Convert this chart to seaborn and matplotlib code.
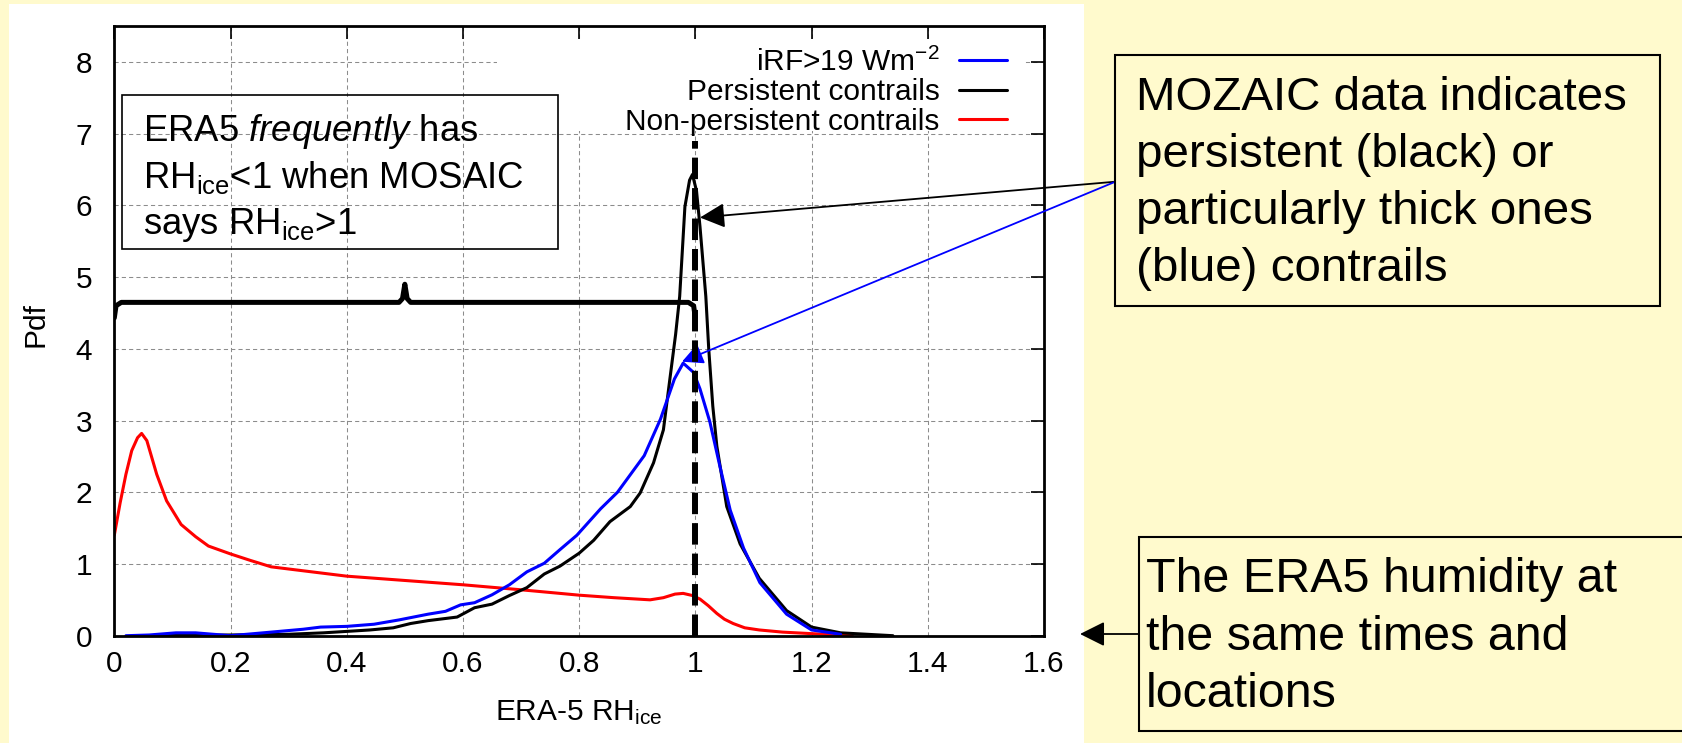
import numpy as np
import pandas as pd
import matplotlib
matplotlib.use("Agg")
import matplotlib.pyplot as plt
import seaborn as sns
from matplotlib.patches import Rectangle

# ---------------- data ----------------
x_nonpersist = [0.0, 0.01, 0.02, 0.03, 0.04, 0.047, 0.056, 0.073, 0.09, 0.115, 0.14, 0.162, 0.2,
                0.234, 0.27, 0.33, 0.4, 0.5, 0.6, 0.7, 0.767, 0.8, 0.86, 0.922, 0.945,
                0.965, 0.979, 0.995, 1.008, 1.022, 1.037, 1.05, 1.065, 1.085, 1.11, 1.15,
                1.197, 1.27]
y_nonpersist = [1.40, 1.85, 2.25, 2.58, 2.76, 2.82, 2.72, 2.25, 1.88, 1.55, 1.38, 1.25, 1.14,
                1.05, 0.96, 0.90, 0.83, 0.77, 0.71, 0.64, 0.59, 0.565, 0.53, 0.50, 0.53,
                0.58, 0.59, 0.56, 0.51, 0.42, 0.31, 0.23, 0.17, 0.11, 0.08, 0.05,
                0.03, 0.0]

x_persist = [0.05, 0.2, 0.3, 0.36, 0.4, 0.44, 0.48, 0.51, 0.54, 0.57, 0.59, 0.62, 0.65,
             0.68, 0.71, 0.74, 0.767, 0.8, 0.825, 0.853, 0.888, 0.905, 0.928, 0.945,
             0.956, 0.966, 0.973, 0.982, 0.99, 0.995, 1.002, 1.008, 1.018, 1.023, 1.03,
             1.037, 1.054, 1.077, 1.11, 1.157, 1.2, 1.25, 1.34]
y_persist = [0.0, 0.01, 0.02, 0.04, 0.06, 0.08, 0.11, 0.17, 0.21, 0.24, 0.26, 0.39, 0.44,
             0.56, 0.67, 0.86, 0.97, 1.15, 1.33, 1.59, 1.80, 1.99, 2.41, 2.87,
             3.57, 4.20, 4.73, 5.98, 6.35, 6.43, 6.20, 5.70, 4.73, 4.00, 3.20,
             2.64, 1.80, 1.28, 0.80, 0.35, 0.12, 0.04, 0.0]

x_irf = [0.02, 0.06, 0.106, 0.14, 0.2, 0.27, 0.325, 0.355, 0.4, 0.447, 0.49, 0.54, 0.57,
         0.596, 0.62, 0.65, 0.68, 0.71, 0.74, 0.767, 0.796, 0.837, 0.866, 0.912, 0.94,
         0.964, 0.979, 0.997, 1.008, 1.025, 1.042, 1.06, 1.083, 1.111, 1.157, 1.2, 1.25]
y_irf = [0.0, 0.01, 0.04, 0.04, 0.0, 0.05, 0.09, 0.12, 0.13, 0.16, 0.22, 0.30, 0.34,
         0.43, 0.46, 0.57, 0.71, 0.89, 1.01, 1.20, 1.40, 1.77, 2.0, 2.51, 3.02,
         3.58, 3.80, 3.67, 3.44, 2.98, 2.37, 1.75, 1.22, 0.74, 0.30, 0.08, 0.02]

series_labels = [r"iRF>19 Wm$^{-2}$", "Persistent contrails", "Non-persistent contrails"]

xticks = [0, 0.2, 0.4, 0.6, 0.8, 1.0, 1.2, 1.4, 1.6]
xtick_labels = ["0", "0.2", "0.4", "0.6", "0.8", "1", "1.2", "1.4", "1.6"]
yticks = [0, 1, 2, 3, 4, 5, 6, 7, 8]
ytick_labels = ["0", "1", "2", "3", "4", "5", "6", "7", "8"]

# annotation shapes (brace over 0..1 and the RHice = 1 marker)
brace_x = [0.0, 0.003, 0.012, 0.49, 0.496, 0.5, 0.504, 0.51, 0.988, 0.997, 1.0]
brace_y = [4.43, 4.60, 4.647, 4.647, 4.70, 4.90, 4.70, 4.647, 4.647, 4.60, 4.43]
rh1_x = [1.0, 1.0]
rh1_y = [0.0, 6.9]

# ---------------- style ----------------
sns.set_theme(style="white")
plt.rcParams['font.family'] = ['Liberation Sans', 'DejaVu Sans']
plt.rcParams['mathtext.fontset'] = 'custom'
plt.rcParams['mathtext.rm'] = 'Liberation Sans'
plt.rcParams['mathtext.it'] = 'Liberation Sans:italic'
plt.rcParams['mathtext.bf'] = 'Liberation Sans:bold'
plt.rcParams['text.color'] = 'black'
plt.rcParams['axes.labelcolor'] = 'black'
plt.rcParams['xtick.color'] = 'black'
plt.rcParams['ytick.color'] = 'black'

BG = '#FFFACD'
W, H = 1683, 743
fig = plt.figure(figsize=(W / 100, H / 100), dpi=100)
fig.patch.set_facecolor(BG)
fig.add_artist(Rectangle((9 / W, 0), (1084 - 9) / W, (H - 4) / H, transform=fig.transFigure,
                         facecolor='white', edgecolor='none', zorder=-1))

ax = fig.add_axes([114.3 / W, 1 - 635.7 / H, (1044 - 114.3) / W, (635.7 - 26) / H])
ax.set_facecolor('white')
ax.set_axisbelow(True)

df_np = pd.DataFrame({'x': x_nonpersist, 'y': y_nonpersist})
df_p = pd.DataFrame({'x': x_persist, 'y': y_persist})
df_i = pd.DataFrame({'x': x_irf, 'y': y_irf})

sns.lineplot(data=df_np, x='x', y='y', color='#FF0000', lw=2.2, sort=False, estimator=None, ax=ax)
h_red = ax.lines[-1]
sns.lineplot(data=df_p, x='x', y='y', color='black', lw=2.2, sort=False, estimator=None, ax=ax)
h_black = ax.lines[-1]
sns.lineplot(data=df_i, x='x', y='y', color='#0000FF', lw=2.2, sort=False, estimator=None, ax=ax)
h_blue = ax.lines[-1]

ax.plot(brace_x, brace_y, color='black', lw=3.6, solid_joinstyle='round', solid_capstyle='round', zorder=3)
ax.plot(rh1_x, rh1_y, color='black', lw=4.3, linestyle=(0, (3.6, 1.5)), zorder=4)

ax.set_xlim(0, 1.6)
ax.set_ylim(0, 8.5)
ax.set_xticks(xticks)
ax.set_xticklabels(xtick_labels)
ax.set_yticks(yticks)
ax.set_yticklabels(ytick_labels)
ax.tick_params(direction='in', top=True, right=True, length=9.5, width=1.2,
               labelsize=21.5, colors='black')
ax.tick_params(axis='x', pad=10)
ax.tick_params(axis='y', pad=16)
for s in ax.spines.values():
    s.set_linewidth(2.0)
    s.set_color('black')
ax.grid(True, color='#8c8c8c', linestyle=(0, (4, 3)), linewidth=0.75)

# white key area masking the grid, as in the original
ax.add_patch(Rectangle((0.659, 7.04), 1.567 - 0.659, 8.32 - 7.04, facecolor='white',
                       edgecolor='none', zorder=0.8))

leg = ax.legend([h_blue, h_black, h_red], series_labels, loc='upper right',
                bbox_to_anchor=(0.9602, 0.965), frameon=False, markerfirst=False,
                fontsize=21.5, handlelength=1.6, handletextpad=0.66, labelspacing=0.05,
                borderpad=0, borderaxespad=0)
leg.set_zorder(6)
for t in leg.get_texts():
    t.set_color('black')

ax.set_xlabel(r"ERA-5 RH$_{\rm ice}$", fontsize=21.5, color='black')
ax.xaxis.label.set_va('baseline')
ax.xaxis.set_label_coords(0.5, -(720 - 635.7) / (635.7 - 26))
ax.set_ylabel("Pdf", fontsize=21.5, color='black')
ax.yaxis.label.set_va('center')
ax.yaxis.set_label_coords((36 - 114.3) / (1044 - 114.3), 0.511)


def fx(px):
    return px / W


def fy(py):
    return 1 - py / H


# box 1 (inside the plot, outline only)
fig.add_artist(Rectangle((fx(122.5), fy(249.3)), (558 - 122.5) / W, (249.3 - 94.7) / H,
                         transform=fig.transFigure, facecolor='none', edgecolor='black',
                         lw=1.2, zorder=2))
box1_lines = [r"ERA5 $\it{frequently}$ has", r"RH$_{\rm ice}$<1 when MOSAIC", r"says RH$_{\rm ice}$>1"]
for txt, base in zip(box1_lines, [141, 188, 234]):
    fig.text(fx(143), fy(base), txt, fontsize=26.3, ha='left', va='baseline', zorder=3,
             color='black')

# box 2
fig.add_artist(Rectangle((fx(1115.4), fy(306)), (1660 - 1115.4) / W, (306 - 55) / H,
                         transform=fig.transFigure, facecolor=BG, edgecolor='black',
                         lw=1.5, zorder=2))
box2_lines = ["MOZAIC data indicates", "persistent (black) or", "particularly thick ones",
              "(blue) contrails"]
for txt, base in zip(box2_lines, [110, 167, 224, 281]):
    fig.text(fx(1136), fy(base), txt, fontsize=34.2, ha='left', va='baseline', zorder=3,
             color='black')

# box 3
fig.add_artist(Rectangle((fx(1139), fy(731)), (1700 - 1139) / W, (731 - 537) / H,
                         transform=fig.transFigure, facecolor=BG, edgecolor='black',
                         lw=1.5, zorder=2))
box3_lines = ["The ERA5 humidity at", "the same times and", "locations"]
for txt, base in zip(box3_lines, [592, 650, 707]):
    fig.text(fx(1146), fy(base), txt, fontsize=34.8, ha='left', va='baseline', zorder=3,
             color='black')

# arrows
ax.annotate('', xy=(1.008, 5.83), xycoords='data', xytext=(1115.4, H - 181.7),
            textcoords='figure pixels', annotation_clip=False,
            arrowprops=dict(arrowstyle='-|>,head_length=0.4,head_width=0.2', mutation_scale=38,
                            color='black', lw=1.3, shrinkA=0, shrinkB=0))
ax.annotate('', xy=(0.977, 3.82), xycoords='data', xytext=(1115.4, H - 181.7),
            textcoords='figure pixels', annotation_clip=False,
            arrowprops=dict(arrowstyle='-|>,head_length=0.4,head_width=0.2', mutation_scale=32,
                            color='#0000FF', lw=1.3, shrinkA=0, shrinkB=0))
ax.annotate('', xy=(1080, H - 634), xycoords='figure pixels', xytext=(1139, H - 634),
            textcoords='figure pixels', annotation_clip=False,
            arrowprops=dict(arrowstyle='-|>,head_length=0.4,head_width=0.2', mutation_scale=38,
                            color='black', lw=1.3, shrinkA=0, shrinkB=0))

fig.savefig("out.png", dpi=100, facecolor=fig.get_facecolor())
